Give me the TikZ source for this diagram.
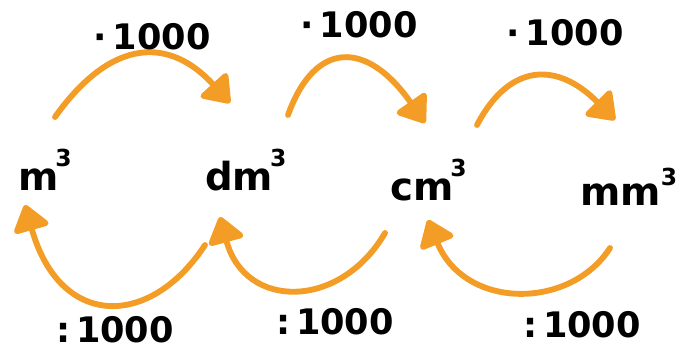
\documentclass[tikz,border=0pt]{standalone}
\usepackage{fontspec}
\setmainfont{DejaVu Sans}
\usetikzlibrary{arrows.meta}
\definecolor{orangefleche}{RGB}{244,157,38}
\newcommand{\cube}{\kern-.08em\raisebox{.62em}{\fontsize{20}{20}\selectfont 3}}
\tikzset{
  fleche/.style={draw=orangefleche, line width=5pt, line cap=round,
    -{Triangle[length=24pt,width=34pt,round]}},
  unite/.style={anchor=base west, inner sep=0pt, font=\bfseries\fontsize{33}{33}\selectfont},
  facteur/.style={inner sep=0pt, font=\bfseries\fontsize{30}{30}\selectfont},
}
\begin{document}
\begin{tikzpicture}[x=0.03cm,y=-0.03cm]
\useasboundingbox (0,0) rectangle (677,355);

% unités
\node[unite] (m3) at (18,190) {m\cube};
\node[unite] (dm3) at (205,190) {dm\cube};
\node[unite] (cm3) at (390,200) {cm\cube};
\node[unite] (mm3) at (580,205) {mm\raisebox{.5em}{\fontsize{20}{20}\selectfont 3}};

% extrémités des flèches du haut
\coordinate (H1) at (55,117);
\coordinate (H2) at (230,103);
\coordinate (H3) at (288,115);
\coordinate (H4) at (425,123);
\coordinate (H5) at (477,125);
\coordinate (H6) at (615,120);
% extrémités des flèches du bas
\coordinate (B1) at (205,245);
\coordinate (B2) at (25,205);
\coordinate (B3) at (385,233);
\coordinate (B4) at (220,217);
\coordinate (B5) at (610,248);
\coordinate (B6) at (428,220);

% multiplications
\draw[fleche] (H1) .. controls (112,37) and (170,37) .. (H2);
\draw[fleche] (H3) .. controls (315,40) and (367,40) .. (H4);
\draw[fleche] (H5) .. controls (510,62) and (558,62) .. (H6);
% divisions
\draw[fleche] (B1) .. controls (150,329) and (60,329) .. (B2);
\draw[fleche] (B3) .. controls (340,310) and (245,310) .. (B4);
\draw[fleche] (B5) .. controls (570,310) and (465,310) .. (B6);

% facteurs
\node[facteur] (fois1) at (152,37) {·\,1000};
\node[facteur] (fois2) at (359,25) {·\,1000};
\node[facteur] (fois3) at (565,33) {·\,1000};
\node[facteur] (div1) at (115,330) {:\,1000};
\node[facteur] (div2) at (335,322) {:\,1000};
\node[facteur] (div3) at (582,325) {:\,1000};
\end{tikzpicture}
\end{document}
